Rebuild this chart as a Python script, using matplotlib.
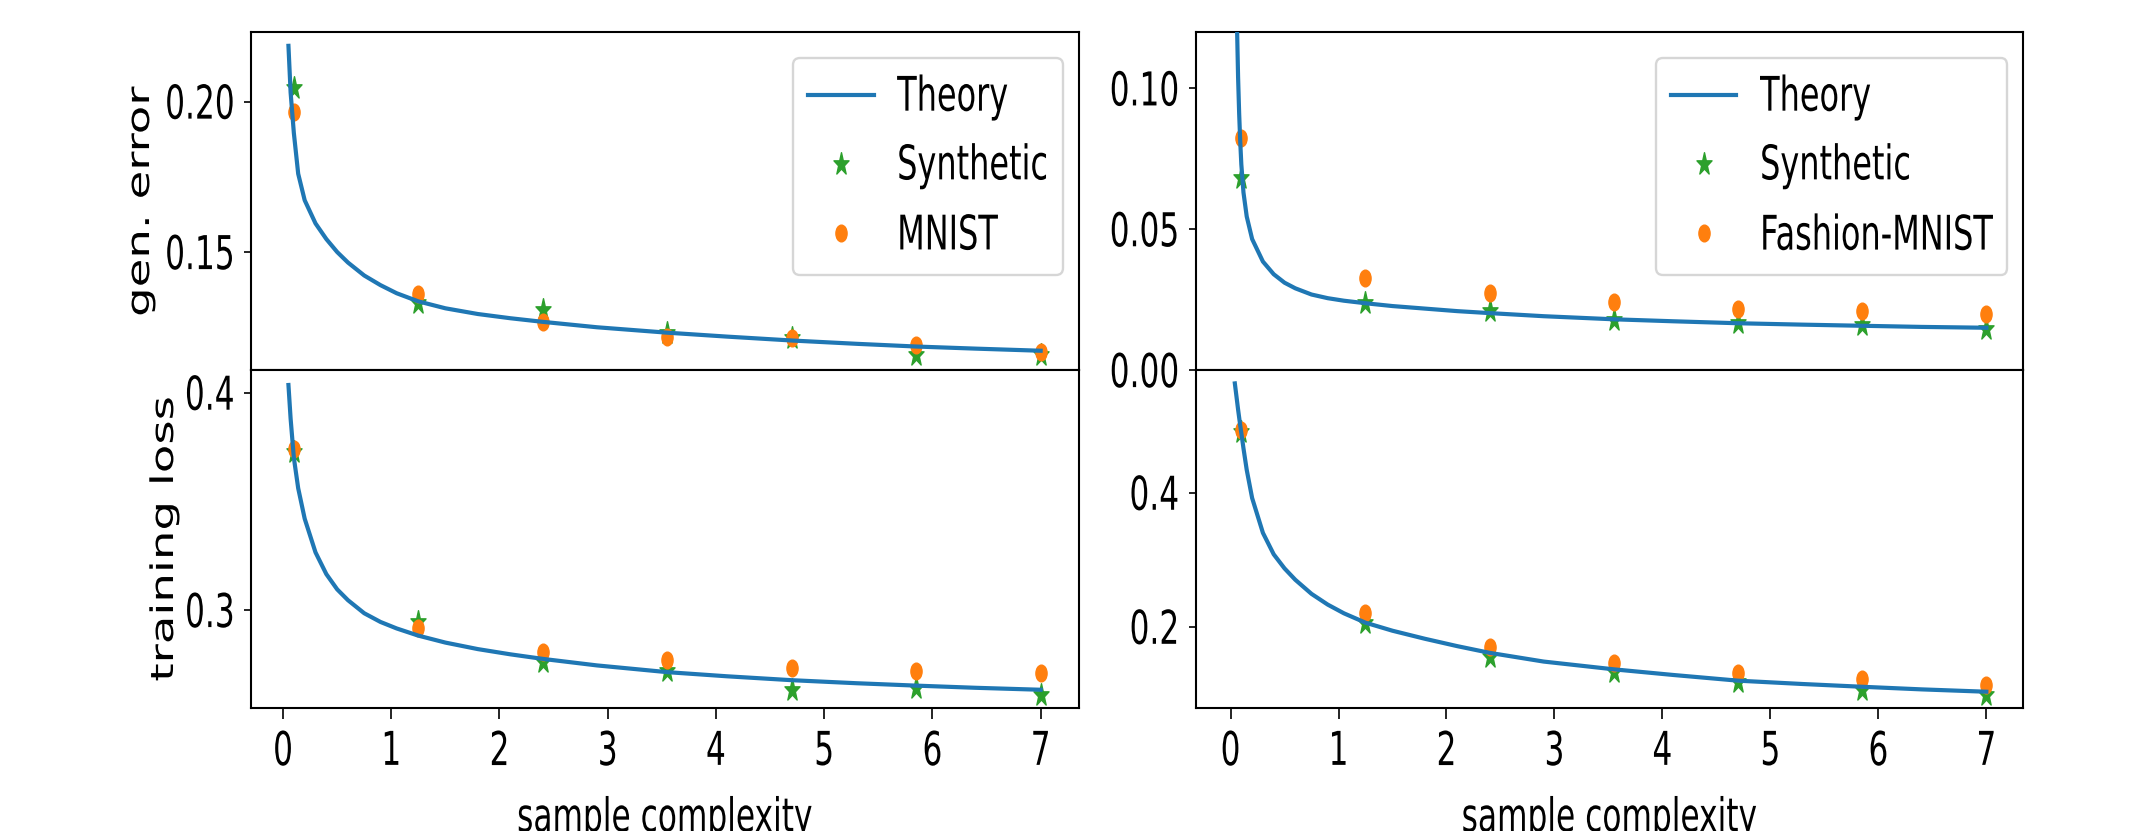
import numpy as np
import matplotlib
matplotlib.use('Agg')
import matplotlib.pyplot as plt
from matplotlib import patheffects
from matplotlib.path import Path
from matplotlib.transforms import Affine2D

# Sample complexities of the experiments
alpha_pts = [0.1, 1.25, 2.4, 3.55, 4.7, 5.85, 7.0]

# Left column: synthetic vs MNIST
alpha_th_left = [0.05, 0.07, 0.1, 0.14, 0.2, 0.3, 0.4, 0.5, 0.6, 0.75, 0.9, 1.05, 1.25,
                 1.5, 1.8, 2.1, 2.4, 2.9, 3.55, 4.1, 4.7, 5.3, 5.85, 6.4, 7.0]
gen_th_left = [0.2185, 0.203, 0.1895, 0.176, 0.1672, 0.1595, 0.1543, 0.15, 0.1465, 0.1422,
               0.139, 0.1363, 0.1336, 0.1313, 0.1294, 0.128, 0.1268, 0.125, 0.1232, 0.1219,
               0.1206, 0.1195, 0.1186, 0.1179, 0.1172]
loss_th_left = [0.4035, 0.388, 0.37, 0.356, 0.342, 0.3265, 0.3165, 0.3095, 0.3045, 0.2985,
                0.2945, 0.2915, 0.2882, 0.285, 0.282, 0.2796, 0.2775, 0.2745, 0.2714, 0.2695,
                0.2677, 0.2663, 0.2652, 0.2642, 0.2633]
gen_syn_left = [0.2045, 0.1331, 0.1306, 0.1232, 0.1214, 0.1159, 0.1159]
gen_real_left = [0.1965, 0.1362, 0.1266, 0.1219, 0.1214, 0.1192, 0.1169]
loss_syn_left = [0.3728, 0.2946, 0.2762, 0.2719, 0.2632, 0.264, 0.2609]
loss_real_left = [0.374, 0.2916, 0.2808, 0.277, 0.2732, 0.2719, 0.2711]

# Right column: synthetic vs Fashion-MNIST
alpha_th_right = [0.04, 0.05, 0.06, 0.07, 0.08, 0.09, 0.1, 0.12, 0.15, 0.2, 0.3, 0.4, 0.5,
                  0.6, 0.75, 0.9, 1.05, 1.25, 1.5, 1.8, 2.1, 2.4, 2.9, 3.55, 4.1, 4.7, 5.3,
                  5.85, 6.4, 7.0]
gen_th_right = [0.2, 0.15, 0.122, 0.104, 0.091, 0.081, 0.073, 0.063, 0.0545, 0.0465, 0.0385,
                0.034, 0.031, 0.029, 0.0268, 0.0255, 0.0246, 0.0237, 0.0227, 0.0218, 0.0209,
                0.0202, 0.0191, 0.018, 0.0173, 0.0166, 0.0161, 0.0157, 0.0153, 0.015]
loss_th_right = [0.563, 0.55, 0.537, 0.524, 0.512, 0.5, 0.489, 0.466, 0.434, 0.392, 0.34,
                 0.308, 0.287, 0.27, 0.249, 0.233, 0.22, 0.206, 0.194, 0.182, 0.171, 0.161,
                 0.148, 0.1364, 0.128, 0.1195, 0.1145, 0.1104, 0.1065, 0.103]
gen_syn_right = [0.0681, 0.0238, 0.0208, 0.0178, 0.0166, 0.0161, 0.0147]
gen_real_right = [0.0825, 0.0328, 0.0273, 0.0243, 0.0215, 0.021, 0.02]
loss_syn_right = [0.491, 0.206, 0.155, 0.133, 0.118, 0.1055, 0.098]
loss_real_right = [0.494, 0.22, 0.17, 0.1463, 0.131, 0.1215, 0.113]

real_names = ['MNIST', 'Fashion-MNIST']

# the reference figure is squeezed horizontally: text drawn narrow, then stretched in y
SQ = 0.67
SY = 1 / SQ


class Stretch(patheffects.AbstractPathEffect):
    def __init__(self, sy=SY, anchor='center'):
        super().__init__()
        self.sy = sy
        self.anchor = anchor

    def draw_path(self, renderer, gc, tpath, affine, rgbFace=None):
        verts = tpath.vertices
        if tpath.codes is not None:
            verts = verts[tpath.codes != Path.CLOSEPOLY]
        if len(verts) == 0:
            return
        ys = affine.transform(verts)[:, 1]
        yc = ys.max() if self.anchor == 'top' else 0.5 * (ys.min() + ys.max())
        st = Affine2D().translate(0, -yc).scale(1, self.sy).translate(0, yc)
        renderer.draw_path(gc, tpath, Affine2D(st.get_matrix() @ affine.get_matrix()), rgbFace)


def stretch(texts, anchor='center'):
    for t in texts:
        t.set_path_effects([Stretch(SY, anchor)])


# squeezed markers
star = Path.unit_regular_star(5, 0.381966).transformed(Affine2D().scale(SQ, 1))
dot = Path.unit_circle().transformed(Affine2D().scale(SQ, 1))

fig, axes = plt.subplots(2, 2, figsize=(21.49, 8.31), dpi=100,
                         gridspec_kw=dict(hspace=0, wspace=0.1414))
fig.subplots_adjust(left=0.1168, right=0.9414, bottom=0.148, top=0.9615)

panels = [
    (axes[0, 0], alpha_th_left, gen_th_left, gen_syn_left, gen_real_left),
    (axes[1, 0], alpha_th_left, loss_th_left, loss_syn_left, loss_real_left),
    (axes[0, 1], alpha_th_right, gen_th_right, gen_syn_right, gen_real_right),
    (axes[1, 1], alpha_th_right, loss_th_right, loss_syn_right, loss_real_right),
]
ylims = [(0.1108, 0.2231), (0.2549, 0.4104), (0.0, 0.12), (0.0787, 0.583)]
yticks = [[0.15, 0.20], [0.3, 0.4], [0.0, 0.05, 0.10], [0.2, 0.4]]
xlims = [(-0.296, 7.35), (-0.296, 7.35), (-0.324, 7.34), (-0.324, 7.34)]

for k, (ax, xt, yt, ys, yr) in enumerate(panels):
    col = 0 if k < 2 else 1
    line, = ax.plot(xt, yt, color='#1f77b4', lw=3.0, zorder=3, label='Theory')
    s, = ax.plot(alpha_pts, ys, ls='none', marker=star, ms=17, color='#2ca02c',
                 label='Synthetic')
    r, = ax.plot(alpha_pts, yr, ls='none', marker=dot, ms=12, color='#ff7f0e',
                 label=real_names[col])
    ax.set_xlim(*xlims[k])
    ax.set_ylim(*ylims[k])
    ax.set_yticks(yticks[k])
    for sp in ax.spines.values():
        sp.set_linewidth(1.5)
    ax.tick_params(width=1.2, labelsize=22.5)
    ax.tick_params(axis='y', length=4.8, pad=6.9)
    ax.tick_params(axis='x', length=8.1, pad=8.2)
    top = k in (0, 2)
    if top:
        ax.tick_params(axis='x', bottom=False, labelbottom=False)
        leg = ax.legend(handles=[line, s, r], loc='center right',
                        bbox_to_anchor=(0.9807, 0.602), borderaxespad=0, fontsize=23,
                        handlelength=2.06, handletextpad=0.74, borderpad=0.45,
                        labelspacing=1.18, edgecolor='0.8', framealpha=0.8)
        leg.get_frame().set_linewidth(1.7)
        leg.get_frame().set_path_effects([Stretch(1.1)])
        stretch(leg.get_texts())
    else:
        ax.set_xticks(range(8))
        ax.set_xlabel('sample complexity', fontsize=22.5)
        ax.xaxis.set_label_coords(0.5, -0.2624)
        stretch([ax.xaxis.label], 'top')
        stretch(ax.get_xticklabels(), 'top')
    stretch(ax.get_yticklabels())

axes[0, 0].set_ylabel('gen. error', fontsize=22.5)
axes[0, 0].yaxis.set_label_coords(-0.116, 0.5)
axes[1, 0].set_ylabel('training loss', fontsize=22.5)
axes[1, 0].yaxis.set_label_coords(-0.087, 0.5)
stretch([axes[0, 0].yaxis.label, axes[1, 0].yaxis.label])

fig.savefig('out.png', dpi=100)
